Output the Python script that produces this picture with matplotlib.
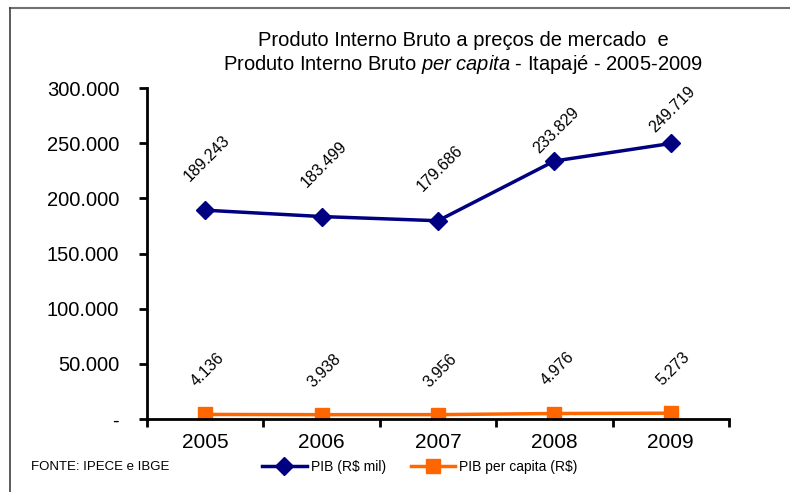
import matplotlib.pyplot as plt
from matplotlib.lines import Line2D
from matplotlib.ticker import FuncFormatter

plt.rcParams['font.family'] = ['Liberation Sans', 'DejaVu Sans']
plt.rcParams['mathtext.fontset'] = 'custom'
plt.rcParams['mathtext.rm'] = 'Liberation Sans'
plt.rcParams['mathtext.it'] = 'Liberation Sans:italic'

anos = ['2005', '2006', '2007', '2008', '2009']
pib = [189243, 183499, 179686, 233829, 249719]
pib_pc = [4136, 3938, 3956, 4976, 5273]
y_ticks = [0, 50000, 100000, 150000, 200000, 250000, 300000]

# label offsets (points above the marker) as placed in the original
off_pib = [37.5, 37.5, 37.5, 22, 24.5]
off_pc = [32, 32, 32, 32, 32]


def br(v):
    if v == 0:
        return '-'
    return f'{v:,.0f}'.replace(',', '.')


fig = plt.figure(figsize=(7.9, 4.92), dpi=100)
ax = fig.add_axes([147/790, 1-419/492, (729-147)/790, (419-88)/492])

x = list(range(len(anos)))
ax.plot(x, pib, color='#000080', lw=2.5, marker='D', ms=9.5, label='PIB (R$ mil)')
ax.plot(x, pib_pc, color='#FF6600', lw=2.5, marker='s', ms=10, label='PIB per capita (R$)')

for xi, v, o in zip(x, pib, off_pib):
    ax.annotate(br(v), (xi, v), xytext=(1.5, o), textcoords='offset points',
                ha='center', va='center', rotation=45, fontsize=11.5)
for xi, v, o in zip(x, pib_pc, off_pc):
    ax.annotate(br(v), (xi, v), xytext=(2, o), textcoords='offset points',
                ha='center', va='center', rotation=45, fontsize=11.5)

ax.set_xlim(-0.5, len(anos) - 0.5)
ax.set_ylim(0, 300000)
ax.set_yticks(y_ticks)
ax.yaxis.set_major_formatter(FuncFormatter(lambda v, p: br(v)))
ax.set_xticks(x)
ax.set_xticklabels(anos)
ax.set_xticks([i - 0.5 for i in range(len(anos) + 1)], minor=True)
ax.tick_params(axis='x', which='major', length=0, labelsize=15, pad=10)
ax.tick_params(axis='x', which='minor', length=6, width=2, direction='out')
ax.tick_params(axis='y', length=6, width=2, direction='out', labelsize=14.5, pad=14)

for s in ['top', 'right']:
    ax.spines[s].set_visible(False)
for s in ['left', 'bottom']:
    ax.spines[s].set_linewidth(2)

fig.text(463/790, 1-40/492, 'Produto Interno Bruto a preços de mercado  e',
         ha='center', va='center', fontsize=14.5)
fig.text(463/790, 1-64/492, 'Produto Interno Bruto $\\it{per\\ capita}$ - Itapajé - 2005-2009',
         ha='center', va='center', fontsize=14.5)
fig.text(31/790, 1-467/492, 'FONTE: IPECE e IBGE', ha='left', va='center', fontsize=9.5)

fig.legend(loc='center', bbox_to_anchor=(420/790, 1-467/492), ncol=2, frameon=False,
           fontsize=10, handlelength=3.2, columnspacing=1.8, handletextpad=0.3)

fig.add_artist(Line2D([10/790, 1], [1-8/492, 1-8/492], color='#707070', lw=1.5))
fig.add_artist(Line2D([10/790, 10/790], [0, 1-8/492], color='#404040', lw=1.2))

fig.savefig('out.png', dpi=100)
